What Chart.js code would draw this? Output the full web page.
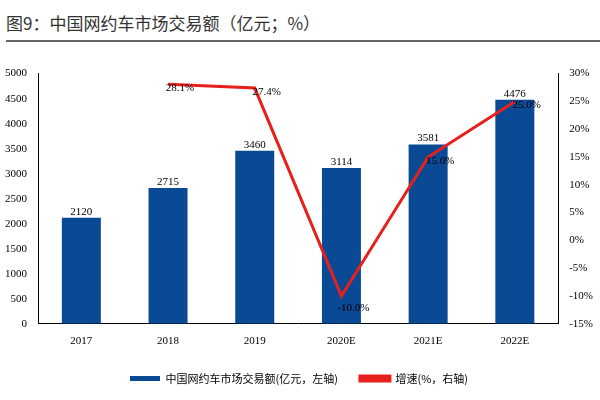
<!DOCTYPE html>
<html><head><meta charset="utf-8">
<script src="https://cdn.jsdelivr.net/npm/chart.js@4"></script>
<style>
body{margin:0;width:600px;height:400px;background:#fff;font-family:"Noto Sans CJK SC",serif;}
#title{position:absolute;left:6px;top:10px;font-size:17px;color:#333;font-family:"Noto Sans CJK SC";}
#rule{position:absolute;left:6px;top:40px;width:594px;height:2px;background:#666;}
#wrap{position:absolute;left:0;top:64px;width:600px;height:336px;}
</style></head><body>
<div id="title">图9：中国网约车市场交易额（亿元；%）</div>
<div id="rule"></div>
<div id="wrap"><canvas id="c"></canvas></div>
<script>
// 数据
const years = ["2017", "2018", "2019", "2020E", "2021E", "2022E"];
const amounts = [2120, 2715, 3460, 3114, 3581, 4476];
const growth = [null, 28.1, 27.4, -10.0, 15.0, 25.0];

const FONT = "Liberation Serif";

// 数值标签插件
const labelPlugin = {
  id: "labels",
  afterDatasetsDraw(chart) {
    const ctx = chart.ctx;
    ctx.save();
    ctx.font = "11px " + FONT;
    ctx.fillStyle = "#000";
    ctx.textAlign = "center";
    chart.getDatasetMeta(0).data.forEach((b, i) => {
      ctx.fillText(amounts[i], b.x, b.y - 6);
    });
    chart.getDatasetMeta(1).data.forEach((p, i) => {
      if (growth[i] == null) return;
      const y = growth[i] < 0 ? p.y + 12 : p.y + 4;
      ctx.fillText(growth[i].toFixed(1) + "%", p.x + 12, y);
    });
    ctx.restore();
  },
};

new Chart(document.getElementById("c"), {
  data: {
    labels: years,
    datasets: [
      { type: "bar", label: "中国网约车市场交易额(亿元，左轴)", data: amounts, backgroundColor: "#0a4a94",
        yAxisID: "y", barPercentage: 0.45, categoryPercentage: 1, order: 2 },
      { type: "line", label: "增速(%，右轴)", data: growth, borderColor: "#e8201c", backgroundColor: "#e8201c",
        borderWidth: 3, pointRadius: 0, yAxisID: "y1", order: 1 },
    ],
  },
  options: {
    responsive: true,
    maintainAspectRatio: false,
    animation: false,
    layout: { padding: { left: 2, right: 4, bottom: 6 } },
    scales: {
      x: { grid: { display: false }, border: { color: "#000" },
        ticks: { color: "#000", font: { family: FONT, size: 11 } } },
      y: { min: 0, max: 5000,
        ticks: { stepSize: 500, color: "#000", callback: (v) => String(v), font: { family: FONT, size: 11 } },
        grid: { display: false }, border: { color: "#000" } },
      y1: { position: "right", min: -15, max: 30,
        ticks: { stepSize: 5, color: "#000", callback: (v) => v + "%", font: { family: FONT, size: 11 } },
        grid: { display: false }, border: { color: "#000" } },
    },
    plugins: {
      legend: { position: "bottom",
        labels: { boxWidth: 30, boxHeight: 5, color: "#000", padding: 22,
          sort: (a, b) => a.datasetIndex - b.datasetIndex,
          font: { family: "Noto Sans CJK SC", size: 11 } } },
      tooltip: { enabled: false },
    },
  },
  plugins: [labelPlugin],
});
</script>
</body></html>
